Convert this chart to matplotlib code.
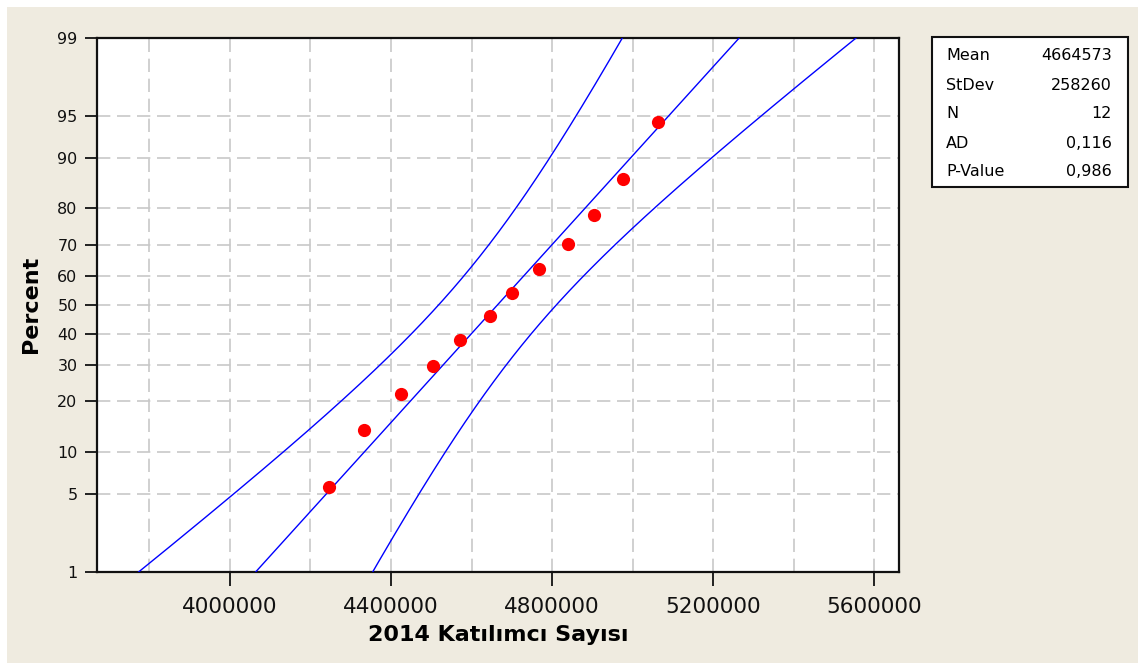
from statistics import NormalDist
import numpy as np
import matplotlib
matplotlib.use('Agg')
import matplotlib.pyplot as plt
from matplotlib.patches import Rectangle

# 2014 participant counts (sorted)
katilimci = [4246000, 4333000, 4424000, 4505000, 4570000, 4646000,
             4701000, 4768000, 4840000, 4905000, 4976000, 5062000]
# plotted percent of each point
percent = [5.6, 13.7, 21.8, 29.8, 37.9, 46.0, 54.0, 62.1, 70.2, 78.2, 86.3, 94.4]

stat_names = ['Mean', 'StDev', 'N', 'AD', 'P-Value']
stat_values = ['4664573', '258260', '12', '0,116', '0,986']
mean, stdev, n = 4664573, 258260, 12

y_ticks = [1, 5, 10, 20, 30, 40, 50, 60, 70, 80, 90, 95, 99]
y_grid = [5, 10, 20, 30, 40, 50, 60, 70, 80, 90, 95]
x_ticks = [4000000, 4400000, 4800000, 5200000, 5600000]
x_grid = [3800000, 4000000, 4200000, 4400000, 4600000, 4800000,
          5000000, 5200000, 5400000, 5600000]

nd = NormalDist()
_ppf = np.vectorize(lambda p: nd.inv_cdf(min(max(p / 100.0, 1e-9), 1 - 1e-9)), otypes=[float])
_cdf = np.vectorize(lambda z: 100.0 * nd.cdf(z), otypes=[float])


def fwd(p):
    return _ppf(np.asarray(p, dtype=float))


def inv(z):
    return _cdf(np.asarray(z, dtype=float))


fig = plt.figure(figsize=(11.38, 6.63), dpi=100)
fig.patch.set_facecolor('white')
fig.patches.append(Rectangle((7 / 1138, 0), 1, (663 - 7) / 663, transform=fig.transFigure,
                             facecolor='#EFEBE0', edgecolor='none', zorder=-10))

ax = fig.add_axes([97 / 1138, 1 - 572 / 663, (899 - 97) / 1138, (572 - 37.5) / 663])
ax.set_facecolor('white')
ax.set_yscale('function', functions=(fwd, inv))

# fitted line and 95% confidence band
z = np.linspace(-3.2, 3.2, 600)
fit = mean + stdev * z
half = 1.96 * stdev * np.sqrt(1 / n + z ** 2 / (2 * (n - 1)))
pz = inv(z)
for xs in (fit - half, fit, fit + half):
    ax.plot(xs, pz, color='#0000FF', lw=1.0, zorder=3)

ax.plot(katilimci, percent, 'o', color='#FF0000', ms=9.5, mec='none', zorder=4)

for gx in x_grid:
    ax.axvline(gx, color='#C8C8C8', lw=1.2, dashes=(8, 4), zorder=1)
for gy in y_grid:
    ax.axhline(gy, color='#C8C8C8', lw=1.2, dashes=(8, 4), zorder=1)

ax.set_xlim(3670000, 5661000)
ax.set_ylim(1, 99)
ax.set_yticks(y_ticks)
ax.set_yticklabels([str(t) for t in y_ticks])
ax.minorticks_off()
ax.set_xticks(x_ticks)
ax.set_xticklabels([str(t) for t in x_ticks])
ax.tick_params(axis='x', length=10, width=1.3, pad=8, labelsize=15.5, colors='#111111')
ax.tick_params(axis='y', length=9, width=1.3, pad=5, labelsize=11.5, colors='#111111')
for s in ax.spines.values():
    s.set_linewidth(1.6)
    s.set_color('#111111')

ax.set_xlabel('2014 Katılımcı Sayısı', fontsize=16, fontweight='bold', labelpad=6)
ax.set_ylabel('Percent', fontsize=16, fontweight='bold', labelpad=12)

# statistics box
bx0, by0, bx1, by1 = 932 / 1138, 1 - 187 / 663, 1128 / 1138, 1 - 37 / 663
fig.patches.append(Rectangle((bx0, by0), bx1 - bx0, by1 - by0, transform=fig.transFigure,
                             facecolor='white', edgecolor='#111111', lw=1.5, zorder=5))
rows_y = [56, 85.5, 114, 143, 171]
for name, val, ry in zip(stat_names, stat_values, rows_y):
    fig.text(946 / 1138, 1 - ry / 663, name, fontsize=11.5, va='center', ha='left', zorder=6)
    fig.text(1112 / 1138, 1 - ry / 663, val, fontsize=11.5, va='center', ha='right', zorder=6)

fig.savefig('out.png', dpi=100, facecolor=fig.get_facecolor())
